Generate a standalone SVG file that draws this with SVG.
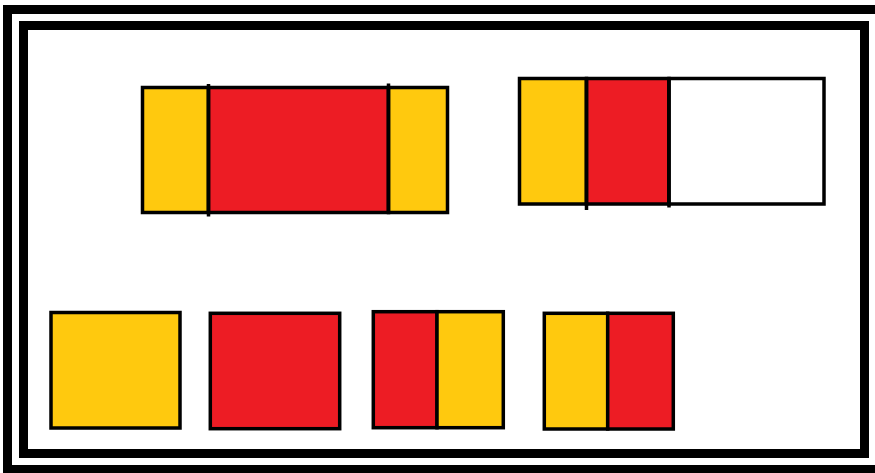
<svg xmlns="http://www.w3.org/2000/svg" width="875" height="473" viewBox="0 0 875 473">
  <style>
    .frame { fill: none; stroke: #000; stroke-width: 9; }
    .box { stroke: #000; stroke-width: 3.5; }
    .yellow { fill: #FFC90E; }
    .red { fill: #ED1C24; }
    .empty { fill: #FFFFFF; }
    .divider { stroke: #000; stroke-width: 3.5; fill: none; }
  </style>
  <rect width="875" height="473" fill="#FFFFFF"/>

  <!-- double frame -->
  <g id="frame">
    <rect class="frame" x="7.5" y="9.5" width="872" height="460"/>
    <rect class="frame" x="23.5" y="25.5" width="841" height="428"/>
  </g>

  <!-- yellow | red | yellow bar -->
  <g id="bar-yry">
    <rect class="box yellow" x="142.5" y="87.5" width="66" height="125"/>
    <rect class="box red" x="208.5" y="87.5" width="180" height="125"/>
    <rect class="box yellow" x="388.5" y="87.5" width="59" height="125"/>
    <line class="divider" x1="208.5" y1="84" x2="208.5" y2="216.5"/>
    <line class="divider" x1="388.5" y1="83.5" x2="388.5" y2="213"/>
  </g>

  <!-- yellow | red | empty bar -->
  <g id="bar-yre">
    <rect class="box yellow" x="519.5" y="78.5" width="67" height="125.5"/>
    <rect class="box red" x="586.5" y="78.5" width="82.5" height="125.5"/>
    <rect class="box empty" x="669" y="78.5" width="155" height="125.5"/>
    <line class="divider" x1="586.5" y1="78.5" x2="586.5" y2="210"/>
    <line class="divider" x1="669" y1="78.5" x2="669" y2="207.5"/>
  </g>

  <!-- single yellow tile -->
  <g id="tile-yellow">
    <rect class="box yellow" x="51" y="312.5" width="129" height="115.5"/>
  </g>

  <!-- single red tile -->
  <g id="tile-red">
    <rect class="box red" x="210.3" y="313.3" width="129.4" height="115.4"/>
  </g>

  <!-- red | yellow tile -->
  <g id="tile-ry">
    <rect class="box red" x="373.3" y="311.7" width="63.7" height="116"/>
    <rect class="box yellow" x="437" y="311.7" width="66.3" height="116"/>
  </g>

  <!-- yellow | red tile -->
  <g id="tile-yr">
    <rect class="box yellow" x="544.3" y="313.3" width="63.4" height="115.7"/>
    <rect class="box red" x="607.7" y="313.3" width="65.6" height="115.7"/>
  </g>
</svg>
